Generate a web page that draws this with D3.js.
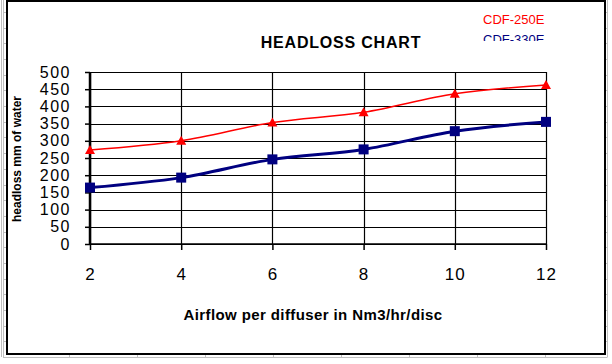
<!DOCTYPE html>
<html>
<head>
<meta charset="utf-8">
<script src="https://cdn.jsdelivr.net/npm/d3@7"></script>
<style>
  html, body { margin: 0; padding: 0; background: #fff; }
  svg { display: block; font-family: "Liberation Sans", Arial, sans-serif; }
</style>
</head>
<body>
<svg id="chart" width="612" height="364"></svg>
<script>
// ---- data ----
const airflow = [2, 4, 6, 8, 10, 12];
const cdf250 = [273, 300, 353, 383, 437, 462];
const cdf330 = [164, 193, 246, 275, 328, 355];
const xTicks = [2, 4, 6, 8, 10, 12];
const yTicks = [0, 50, 100, 150, 200, 250, 300, 350, 400, 450, 500];
const seriesNames = ["CDF-250E", "CDF-330E"];
const titleText = "HEADLOSS CHART";
const xLabel = "Airflow per diffuser in Nm3/hr/disc";
const yLabel = "headloss mm of water";

(function () {
const svg = d3.select("#chart");

// spreadsheet background grid
const bg = svg.append("g").attr("stroke", "#c0c0c0").attr("stroke-width", 1);
const rowYs = d3.range(0, 23).map(i => 12 + i * (345 / 22));
rowYs.forEach(yy => bg.append("line").attr("x1", 3).attr("x2", 607).attr("y1", Math.round(yy) + 0.5).attr("y2", Math.round(yy) + 0.5));
d3.range(1, 612, 68).forEach(xx => bg.append("line").attr("x1", xx + 0.5).attr("x2", xx + 0.5).attr("y1", 0).attr("y2", 357));
bg.append("line").attr("x1", 3.5).attr("x2", 3.5).attr("y1", 0).attr("y2", 357.5);
bg.append("line").attr("x1", 607.5).attr("x2", 607.5).attr("y1", 0).attr("y2", 357.5);

// chart frame
svg.append("rect").attr("x", 7).attr("y", 1).attr("width", 598).attr("height", 353)
  .attr("fill", "#fff").attr("stroke", "#000").attr("stroke-width", 2);

const pLeft = 90, pRight = 546, pTop = 72, pBottom = 244;
const x = d3.scaleLinear().domain([2, 12]).range([pLeft, pRight]);
const y = d3.scaleLinear().domain([0, 500]).range([pBottom, pTop]);

// horizontal gridlines
svg.append("g").selectAll("line").data(yTicks).join("line")
  .attr("x1", pLeft).attr("x2", pRight)
  .attr("y1", d => Math.round(y(d)) + 0.5).attr("y2", d => Math.round(y(d)) + 0.5)
  .attr("stroke", "#000").attr("stroke-width", 1.2);
// vertical gridlines
svg.append("g").selectAll("line").data(xTicks).join("line")
  .attr("x1", d => Math.round(x(d)) + 0.5).attr("x2", d => Math.round(x(d)) + 0.5)
  .attr("y1", pTop).attr("y2", pBottom)
  .attr("stroke", "#000").attr("stroke-width", 1.2);

// y axis
const yAxis = svg.append("g").attr("transform", `translate(${pLeft},0)`)
  .call(d3.axisLeft(y).tickValues(yTicks).tickSize(5).tickPadding(14).tickFormat(d3.format("d")));
yAxis.select(".domain").attr("stroke-width", 2.5).attr("d", `M0,${pTop}V${pBottom + 1}`);
yAxis.selectAll(".tick line").attr("stroke-width", 1.5);
yAxis.selectAll("text").attr("font-size", 16).attr("letter-spacing", 1.5).attr("fill", "#000")
  .attr("font-family", "Liberation Sans, Arial, sans-serif");

// x axis
const xAxis = svg.append("g").attr("transform", `translate(0,${pBottom})`)
  .call(d3.axisBottom(x).tickValues(xTicks).tickSize(6).tickPadding(18).tickFormat(d3.format("d")));
xAxis.select(".domain").attr("stroke-width", 1.5).attr("d", `M${pLeft},0H${pRight}`);
xAxis.selectAll(".tick line").attr("stroke-width", 1.5);
xAxis.selectAll("text").attr("font-size", 17).attr("letter-spacing", 1).attr("fill", "#000")
  .attr("font-family", "Liberation Sans, Arial, sans-serif");

// lines
const line = d3.line().x((d, i) => x(airflow[i])).y(d => y(d)).curve(d3.curveCatmullRom.alpha(0));
svg.append("path").datum(cdf250).attr("d", line).attr("fill", "none").attr("stroke", "#ff0000").attr("stroke-width", 1.5);
svg.append("path").datum(cdf330).attr("d", line).attr("fill", "none").attr("stroke", "#000080").attr("stroke-width", 3);

// markers
svg.append("g").selectAll("path").data(cdf250).join("path")
  .attr("d", (d, i) => {
    const cx = x(airflow[i]), cy = y(d);
    return `M${cx},${cy - 5}L${cx + 5},${cy + 4}L${cx - 5},${cy + 4}Z`;
  })
  .attr("fill", "#ff0000");
svg.append("g").selectAll("rect").data(cdf330).join("rect")
  .attr("x", (d, i) => x(airflow[i]) - 5).attr("y", d => y(d) - 5)
  .attr("width", 10).attr("height", 10).attr("fill", "#000080");

// title
svg.append("text").attr("x", 341).attr("y", 48).attr("text-anchor", "middle")
  .attr("font-size", 16).attr("font-weight", "bold").attr("letter-spacing", 0.8).text(titleText);

// legend
svg.append("text").attr("x", 483).attr("y", 24).attr("font-size", 13).attr("fill", "#ff0000").text(seriesNames[0]);
svg.append("clipPath").attr("id", "legclip").append("rect").attr("x", 470).attr("y", 28).attr("width", 100).attr("height", 13);
svg.append("text").attr("x", 483).attr("y", 44).attr("font-size", 13).attr("fill", "#000080")
  .attr("clip-path", "url(#legclip)").text(seriesNames[1]);

// axis titles
svg.append("text").attr("x", 313).attr("y", 320).attr("text-anchor", "middle")
  .attr("font-size", 15).attr("font-weight", "bold").attr("letter-spacing", 0.4).text(xLabel);
svg.append("text").attr("transform", "translate(21,159) rotate(-90)").attr("text-anchor", "middle")
  .attr("font-size", 12).attr("font-weight", "bold").text(yLabel);
})();
</script>
</body>
</html>
